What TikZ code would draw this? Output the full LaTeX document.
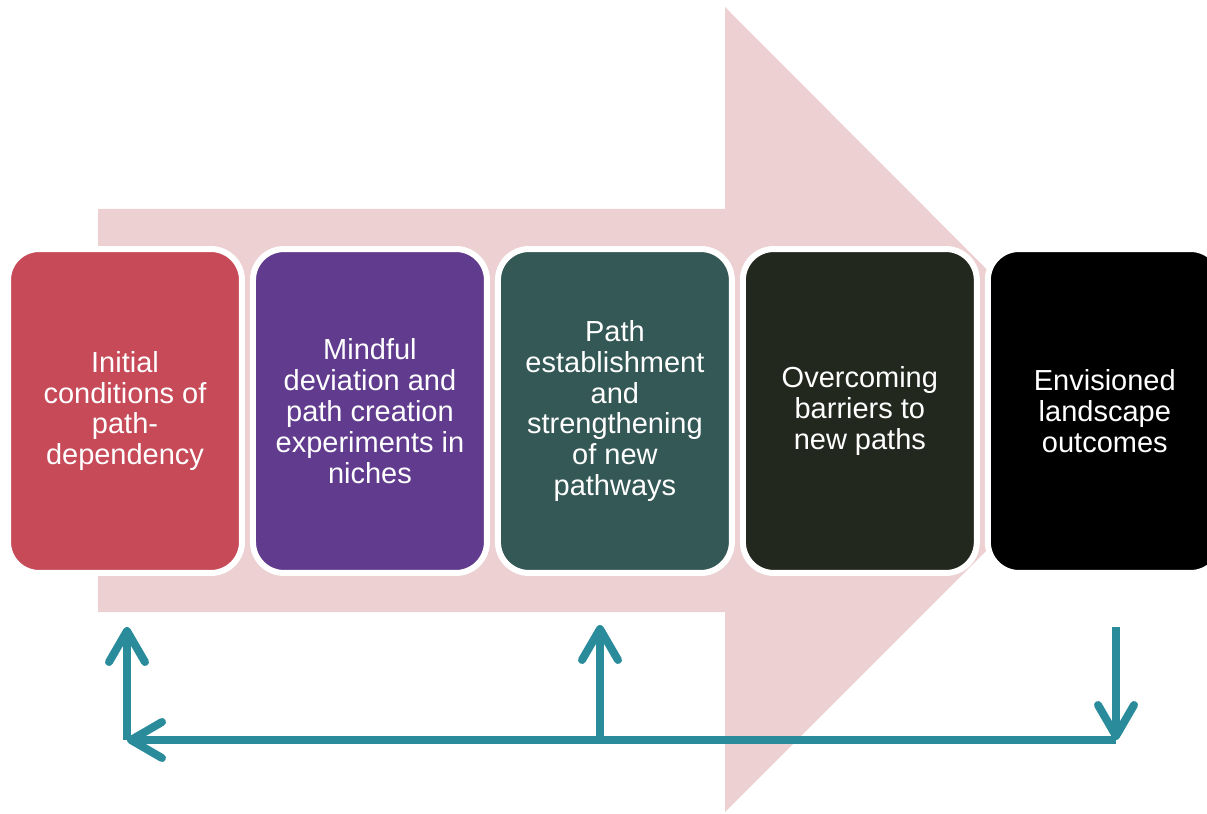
\documentclass[tikz,border=0pt]{standalone}
\usepackage{fontspec}
\setmainfont{Liberation Sans}
\usetikzlibrary{arrows.meta,positioning}

\definecolor{bigpink}{HTML}{ECD0D2}
\definecolor{stageone}{HTML}{C64A58}
\definecolor{stagetwo}{HTML}{613C8E}
\definecolor{stagethree}{HTML}{345855}
\definecolor{stagefour}{HTML}{23281F}
\definecolor{loopteal}{HTML}{2A8C9B}

\tikzset{
  stage/.style={draw=white, line width=0.12cm, rounded corners=0.62cm,
    minimum width=4.68cm, minimum height=6.48cm, outer sep=0pt, inner sep=0pt,
    text=white, align=center, font=\fontsize{16.5}{17.6}\selectfont},
  feedback/.style={draw=loopteal, line width=0.16cm,
    -{Straight Barb[length=0.62cm,width=0.72cm,round]}}
}

\begin{document}
\begin{tikzpicture}[x=0.02cm,y=-0.02cm]
\clip (0,0) rectangle (1207,814);
% big arrow in the background
\fill[bigpink] (98,209) -- (725,209) -- (725,7) -- (1127,410) -- (725,812)
  -- (725,612) -- (98,612) -- cycle;

% the five stages
\node[stage, fill=stageone] (initial) at (125,411)
  {Initial\\conditions of\\path-\\dependency};
\node[stage, fill=stagetwo, right=0.22cm of initial] (deviation)
  {Mindful\\deviation and\\path creation\\experiments in\\niches};
\node[stage, fill=stagethree, right=0.22cm of deviation] (establish)
  {Path\\establishment\\and\\strengthening\\of new\\pathways};
\node[stage, fill=stagefour, right=0.22cm of establish] (barriers)
  {Overcoming\\barriers to\\new paths};
\node[stage, fill=black, right=0.22cm of barriers] (outcomes)
  {Envisioned\\landscape\\outcomes};

% feedback loop underneath
\coordinate (fromout) at (1116,627);
\coordinate (corner) at (1116,740);
\coordinate (back) at (127,740);
\coordinate (toinit) at (127,627);
\coordinate (mid) at (600,740);
\coordinate (toest) at (600,625);
\draw[feedback] (fromout) -- (corner);
\draw[feedback] (corner) -- (back);
\draw[feedback] (back) -- (toinit);
\draw[feedback] (mid) -- (toest);
\end{tikzpicture}
\end{document}
